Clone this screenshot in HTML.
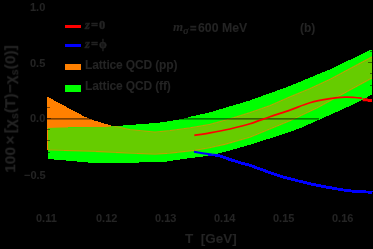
<!DOCTYPE html>
<html><head><meta charset="utf-8">
<style>
html,body{margin:0;padding:0;background:#000;}
body{width:373px;height:249px;position:relative;overflow:hidden;font-family:"Liberation Sans",sans-serif;font-weight:bold;color:#242424;-webkit-font-smoothing:antialiased;}
.t{position:absolute;white-space:nowrap;line-height:1;-webkit-text-stroke:0.1px #242424;will-change:transform;filter:blur(0.3px);}
svg{position:absolute;left:0;top:0;}
sub{font-size:70%;vertical-align:-0.25em;line-height:0;}
</style></head><body>
<svg width="373" height="249" viewBox="0 0 373 249">
<defs>
<clipPath id="ff"><polygon points="48,128 61,127.6 106,127 116,126 129,125 142,124 155,123 164,122 170,121 175,120.2 182,119 192,116.3 210,112.3 250,100.4 290,85.9 330,69.3 372,49.3 372,94.7 352,105 330,114.9 300.6,128 290,131.9 250,144.8 225,151.8 219,153.3 210,155.2 204,156.3 197,157.3 187,158.5 180,159.5 173,160.5 167,161.5 139,162.5 135,163 94,163 88,162.5 77,161.5 66,160.5 54,159.5 48,159"/></clipPath>
</defs>
<polygon fill="#ff8000" shape-rendering="crispEdges" points="47,96.5 60,103.5 76,112.2 86,117.3 92,119.7 100,122.3 106,124 110,125.3 120,127.3 130,129.5 155,132 170,130.5 190,127.7 210,124.3 230,118.8 250,112.6 270,105.5 290,96.8 310,88.5 330,79.2 372,56.8 372,78 350,90.1 317,108 290,120.8 250,137.2 225,144.4 210,147.7 195,150.4 170,153.3 155,154.3 130,153.2 94,151.4 47,150"/>
<polygon fill="#00ff00" shape-rendering="crispEdges" points="48,128 61,127.6 106,127 116,126 129,125 142,124 155,123 164,122 170,121 175,120.2 182,119 192,116.3 210,112.3 250,100.4 290,85.9 330,69.3 372,49.3 372,94.7 352,105 330,114.9 300.6,128 290,131.9 250,144.8 225,151.8 219,153.3 210,155.2 204,156.3 197,157.3 187,158.5 180,159.5 173,160.5 167,161.5 139,162.5 135,163 94,163 88,162.5 77,161.5 66,160.5 54,159.5 48,159"/>
<g clip-path="url(#ff)">
<polygon fill="#66cc00" shape-rendering="crispEdges" points="47,96.5 60,103.5 76,112.2 86,117.3 92,119.7 100,122.3 106,124 110,125.3 120,127.3 130,129.5 155,132 170,130.5 190,127.7 210,124.3 230,118.8 250,112.6 270,105.5 290,96.8 310,88.5 330,79.2 372,56.8 372,78 350,90.1 317,108 290,120.8 250,137.2 225,144.4 210,147.7 195,150.4 170,153.3 155,154.3 130,153.2 94,151.4 47,150"/>
<polyline fill="none" stroke="#ff8000" stroke-opacity="0.6" stroke-width="1.1" points="47,96.5 60,103.5 76,112.2 86,117.3 92,119.7 100,122.3 106,124 110,125.3 120,127.3 130,129.5 155,132 170,130.5 190,127.7 210,124.3 230,118.8 250,112.6 270,105.5 290,96.8 310,88.5 330,79.2 372,56.8"/>
<polyline fill="none" stroke="#ff8000" stroke-opacity="0.6" stroke-width="1.1" points="47,150 94,151.4 130,153.2 155,154.3 170,153.3 195,150.4 210,147.7 225,144.4 250,137.2 290,120.8 317,108 350,90.1 372,78"/>
</g>
<line x1="47" y1="118.9" x2="319" y2="118.9" stroke="#000" stroke-width="1.3" stroke-opacity="0.65"/>
<g stroke="#000" stroke-opacity="0.5" stroke-width="1" shape-rendering="crispEdges">
<line x1="47" y1="185.5" x2="49.5" y2="185.5"/>
<line x1="369.5" y1="185.5" x2="372" y2="185.5"/>
<line x1="47" y1="174.3" x2="51" y2="174.3"/>
<line x1="368" y1="174.3" x2="372" y2="174.3"/>
<line x1="47" y1="163.2" x2="49.5" y2="163.2"/>
<line x1="369.5" y1="163.2" x2="372" y2="163.2"/>
<line x1="47" y1="152.0" x2="49.5" y2="152.0"/>
<line x1="369.5" y1="152.0" x2="372" y2="152.0"/>
<line x1="47" y1="140.8" x2="49.5" y2="140.8"/>
<line x1="369.5" y1="140.8" x2="372" y2="140.8"/>
<line x1="47" y1="129.7" x2="49.5" y2="129.7"/>
<line x1="369.5" y1="129.7" x2="372" y2="129.7"/>
<line x1="47" y1="118.5" x2="51" y2="118.5"/>
<line x1="368" y1="118.5" x2="372" y2="118.5"/>
<line x1="47" y1="107.3" x2="49.5" y2="107.3"/>
<line x1="369.5" y1="107.3" x2="372" y2="107.3"/>
<line x1="47" y1="96.2" x2="49.5" y2="96.2"/>
<line x1="369.5" y1="96.2" x2="372" y2="96.2"/>
<line x1="47" y1="85.0" x2="49.5" y2="85.0"/>
<line x1="369.5" y1="85.0" x2="372" y2="85.0"/>
<line x1="47" y1="73.8" x2="49.5" y2="73.8"/>
<line x1="369.5" y1="73.8" x2="372" y2="73.8"/>
<line x1="47" y1="62.7" x2="51" y2="62.7"/>
<line x1="368" y1="62.7" x2="372" y2="62.7"/>
<line x1="47" y1="51.5" x2="49.5" y2="51.5"/>
<line x1="369.5" y1="51.5" x2="372" y2="51.5"/>
<line x1="47" y1="40.3" x2="49.5" y2="40.3"/>
<line x1="369.5" y1="40.3" x2="372" y2="40.3"/>
<line x1="47" y1="29.2" x2="49.5" y2="29.2"/>
<line x1="369.5" y1="29.2" x2="372" y2="29.2"/>
<line x1="47" y1="18.0" x2="49.5" y2="18.0"/>
<line x1="369.5" y1="18.0" x2="372" y2="18.0"/>
<line x1="47" y1="6.8" x2="51" y2="6.8"/>
<line x1="368" y1="6.8" x2="372" y2="6.8"/>
</g>
<path fill="none" stroke="#ff0000" stroke-width="1.7" d="M194.3,135.3 C196.92,134.90 204.05,133.95 210,132.9 C215.95,131.85 223.33,130.52 230,129 C236.67,127.48 243.33,125.85 250,123.8 C256.67,121.75 263.33,118.98 270,116.7 C276.67,114.42 283.33,112.42 290,110.1 C296.67,107.78 303.33,104.70 310,102.8 C316.67,100.90 324.17,99.65 330,98.7 C335.83,97.75 340.83,97.30 345,97.1 C349.17,96.90 352.17,97.28 355,97.5 C357.83,97.72 360.83,98.25 362,98.4"/>
<polygon fill="#ff0000" points="362.7,98.3 367.7,98.3 367.7,99 372,99 372,101.9 367.7,101.9 367.7,101.2 362.7,101.2"/>
<mask id="noff"><rect x="0" y="0" width="373" height="249" fill="#fff"/><polygon fill="#000" shape-rendering="crispEdges" points="48,128 61,127.6 106,127 116,126 129,125 142,124 155,123 164,122 170,121 175,120.2 182,119 192,116.3 210,112.3 250,100.4 290,85.9 330,69.3 372,49.3 372,94.7 352,105 330,114.9 300.6,128 290,131.9 250,144.8 225,151.8 219,153.3 210,155.2 204,156.3 197,157.3 187,158.5 180,159.5 173,160.5 167,161.5 139,162.5 135,163 94,163 88,162.5 77,161.5 66,160.5 54,159.5 48,159"/></mask>
<path fill="none" stroke="#0000ff" stroke-width="2.9" shape-rendering="crispEdges" mask="url(#noff)" d="M194,151.8 C196.67,152.22 206.00,153.68 210,154.3 C214.00,154.92 215.50,154.93 218,155.5 C220.50,156.07 223.00,157.03 225,157.7 C227.00,158.37 227.50,158.67 230,159.5 C232.50,160.33 236.67,161.72 240,162.7 C243.33,163.68 243.33,163.18 250,165.4 C256.67,167.62 270.00,172.93 280,176 C290.00,179.07 301.67,181.85 310,183.8 C318.33,185.75 323.33,186.52 330,187.7 C336.67,188.88 342.92,190.13 350,190.9 C357.08,191.67 368.75,192.07 372.5,192.3"/>
<path fill="none" stroke="#0000ff" stroke-width="2" clip-path="url(#ff)" d="M194,151.8 C196.67,152.22 206.00,153.68 210,154.3 C214.00,154.92 215.50,154.93 218,155.5 C220.50,156.07 223.00,157.03 225,157.7 C227.00,158.37 227.50,158.67 230,159.5 C232.50,160.33 236.67,161.72 240,162.7 C243.33,163.68 243.33,163.18 250,165.4 C256.67,167.62 270.00,172.93 280,176 C290.00,179.07 301.67,181.85 310,183.8 C318.33,185.75 323.33,186.52 330,187.7 C336.67,188.88 342.92,190.13 350,190.9 C357.08,191.67 368.75,192.07 372.5,192.3"/>
<rect x="65" y="25" width="16" height="3" fill="#ff0000"/>
<rect x="65" y="44" width="16" height="3" fill="#0000ff"/>
<rect x="65" y="64" width="16" height="6" fill="#ff8000"/>
<rect x="65" y="85" width="16" height="7" fill="#00ff00"/>
</svg>
<div class="t" style="left:85px;top:19px;font-size:12.5px;letter-spacing:1px;font-family:'Liberation Serif',serif;-webkit-text-stroke:0.5px #1f1f1f"><i>z</i>=0</div>
<div class="t" style="left:85px;top:38px;font-size:12.5px;letter-spacing:1px;font-family:'Liberation Serif',serif;-webkit-text-stroke:0.5px #1f1f1f"><i>z</i>=ϕ</div>
<div class="t" style="left:85px;top:59px;font-size:12px;letter-spacing:-0.15px">Lattice QCD (pp)</div>
<div class="t" style="left:85px;top:80px;font-size:12px;letter-spacing:-0.15px">Lattice QCD (ff)</div>
<div class="t" style="left:173px;top:20px;font-size:13px;font-family:'Liberation Serif',serif"><i>m</i></div><div class="t" style="left:183px;top:26px;font-size:10.5px;font-family:'Liberation Serif',serif"><i>σ</i></div><div class="t" style="left:189.5px;top:22.5px;font-size:11px;-webkit-text-stroke:0.6px #1f1f1f">=</div><div class="t" style="left:198px;top:22px;font-size:12.3px;letter-spacing:0px">600 MeV</div>
<div class="t" style="left:300px;top:22px;font-size:12px">(b)</div>
<div class="t" style="left:30px;top:1.5px;font-size:11px">1.0</div>
<div class="t" style="left:30px;top:58px;font-size:11px">0.5</div>
<div class="t" style="left:30px;top:113.3px;font-size:11px">0.0</div>
<div class="t" style="left:24px;top:169.5px;font-size:11px">−0.5</div>
<div class="t" style="left:36px;top:213px;font-size:11px">0.11</div>
<div class="t" style="left:96px;top:213px;font-size:11px">0.12</div>
<div class="t" style="left:155px;top:213px;font-size:11px">0.13</div>
<div class="t" style="left:214px;top:213px;font-size:11px">0.14</div>
<div class="t" style="left:273px;top:213px;font-size:11px">0.15</div>
<div class="t" style="left:332px;top:213px;font-size:11px">0.16</div>
<div class="t" style="left:185px;top:232px;font-size:13.5px">T&nbsp;&nbsp;[GeV]</div>
<div class="t" style="left:10px;top:109px;font-size:15.5px;word-spacing:-2px;transform:translate(-50%,-50%) rotate(-90deg);transform-origin:50% 50%;">100 × [χ<sub>s</sub>(T)−χ<sub>s</sub>(0)]</div>
</body></html>
